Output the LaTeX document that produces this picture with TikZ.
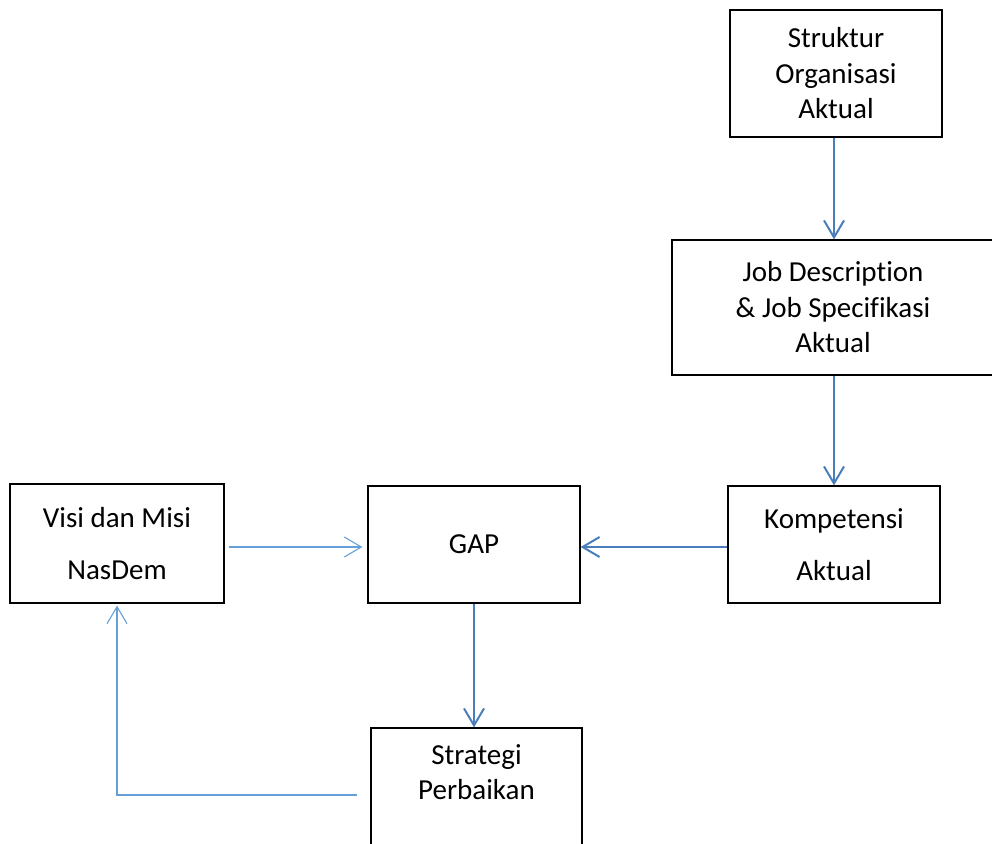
\documentclass[tikz,border=0pt]{standalone}
\usepackage{fontspec}
\setmainfont[Ligatures=NoCommon]{Carlito}
\usepackage{tikz}
\usetikzlibrary{arrows.meta, calc, positioning}

\definecolor{arrowblue}{RGB}{74,126,187}
\definecolor{lineblue}{RGB}{100,160,215}

\begin{document}
\begin{tikzpicture}[
  x=1pt, y=-1pt,
  mybox/.style 2 args={
    draw=black,
    line width=1.2pt,
    rectangle,
    inner sep=0pt,
    align=center,
    minimum width=#1,
    minimum height=#2,
    font=\fontsize{29}{35.5}\selectfont
    },
  myarrow/.style={
    draw=arrowblue,
    line width=2pt,
    -{Straight Barb[length=17pt,width=20pt,line width=2pt]}
    },
  thinarrow/.style={
    draw=lineblue,
    line width=1.1pt,
    -{Straight Barb[length=17pt,width=20pt,line width=1.1pt]}
    }
]

\useasboundingbox (0,0) rectangle (992,843);

\node[mybox={212pt}{127pt}] (strukt) at (836,73.5)
  {Struktur\\Organisasi\\Aktual};
\node[mybox={322pt}{135pt}] (jobdesc) at (833,307.5)
  {Job Description\\\& Job Specifikasi\\Aktual};
\node[mybox={212pt}{117pt}] (kompet) at (834,544.5)
  {Kompetensi\\[17pt]Aktual};
\node[mybox={212pt}{117pt}] (gap) at (474,544.5) {GAP};
\node[mybox={214pt}{119pt}] (visi) at (117,543.5)
  {Visi dan Misi\\[17pt]NasDem};
\node[mybox={211pt}{124pt}] (strat) at (476.5,790)
  {Strategi\\Perbaikan\\\mbox{}};

% Draw connectors
\draw[myarrow] ([xshift=-2pt]strukt.south) -- ([xshift=-2pt]strukt.south |- jobdesc.north);
\draw[myarrow] ([xshift=1pt]jobdesc.south) -- ([xshift=1pt]jobdesc.south |- kompet.north);
\draw[myarrow] ([yshift=-2.5pt]kompet.west) -- ([yshift=-2.5pt]gap.east);
\draw[thinarrow, shorten <=4pt, shorten >=5pt] ([yshift=-2.5pt]gap.west -| visi.east) -- ([yshift=-2.5pt]gap.west);
\draw[myarrow] (gap.south) -- (gap.south |- strat.north);

\coordinate (fb) at (357,795);
\draw[thinarrow] (fb) -| ([yshift=-2pt]visi.south);

\end{tikzpicture}
\end{document}
